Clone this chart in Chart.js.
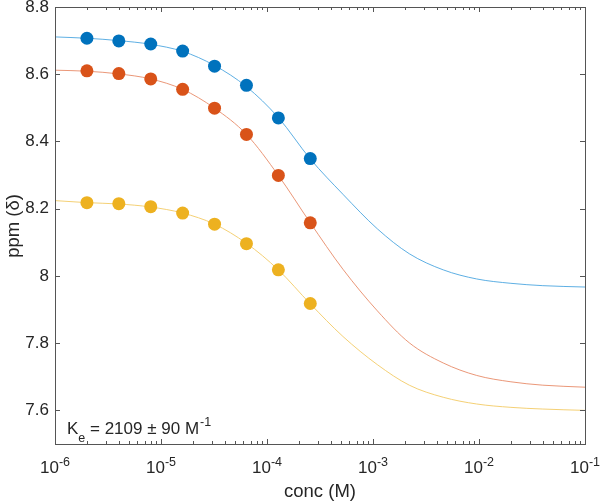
<!DOCTYPE html>
<html lang="en">
<head>
    <meta charset="UTF-8">
    <title>Binding fit</title>
    <style>
        body { margin: 0; background: #fff; }
        #wrap { width: 600px; height: 503px; }
    </style>
    <script src="https://cdn.jsdelivr.net/npm/chart.js"></script>
</head>
<body>
    <div id="wrap">
        <canvas id="fitChart" width="600" height="503"></canvas>
    </div>

    <script>
        // measured points
        var conc = [2e-6, 4e-6, 8e-6, 1.6e-5, 3.2e-5, 6.4e-5, 1.28e-4, 2.56e-4];
        var ppmBlue = [8.707, 8.699, 8.690, 8.669, 8.624, 8.567, 8.470, 8.349];
        var ppmRed = [8.610, 8.602, 8.586, 8.555, 8.499, 8.421, 8.299, 8.158];
        var ppmYellow = [8.218, 8.215, 8.206, 8.187, 8.154, 8.096, 8.018, 7.918];

        // fitted curves
        var fitConc = [1e-6, 2e-6, 4e-6, 8e-6, 1.6e-5, 3.2e-5, 6.4e-5, 1.28e-4, 2.56e-4, 5.2e-4, 1.1e-3, 2.2e-3, 4.6e-3, 9.5e-3, 2e-2, 4e-2, 1e-1];
        var fitBlue = [8.711, 8.707, 8.700, 8.689, 8.668, 8.626, 8.563, 8.471, 8.348, 8.243, 8.140, 8.066, 8.018, 7.991, 7.978, 7.971, 7.967];
        var fitRed = [8.612, 8.609, 8.601, 8.586, 8.555, 8.499, 8.421, 8.299, 8.158, 8.020, 7.896, 7.801, 7.741, 7.704, 7.685, 7.675, 7.669];
        var fitYellow = [8.224, 8.218, 8.214, 8.205, 8.187, 8.154, 8.097, 8.018, 7.917, 7.820, 7.736, 7.675, 7.639, 7.619, 7.609, 7.604, 7.600];

        // axis ticks
        var xTicks = [1e-6, 1e-5, 1e-4, 1e-3, 1e-2, 1e-1];
        var xTickExp = ['-6', '-5', '-4', '-3', '-2', '-1'];
        var yTicks = [7.6, 7.8, 8, 8.2, 8.4, 8.6, 8.8];
        var yTickLabels = ['7.6', '7.8', '8', '8.2', '8.4', '8.6', '8.8'];

        var blue = '#0072BD', red = '#D95319', yellow = '#EDB120';
        var font = '"Liberation Sans", Arial, sans-serif';
        var ink = '#262626';

        function pts(xs, ys) {
            return xs.map(function (x, i) { return { x: x, y: ys[i] }; });
        }

        // MATLAB-style box with inward ticks
        var matlabAxes = {
            id: 'matlabAxes',
            afterDraw: function (chart) {
                var ctx = chart.ctx;
                var a = chart.chartArea;
                var xs = chart.scales.x, ys = chart.scales.y;
                ctx.save();
                ctx.strokeStyle = '#555';
                ctx.lineWidth = 1;
                ctx.strokeRect(a.left + 0.5, a.top + 0.5, a.right - a.left, a.bottom - a.top);

                ctx.beginPath();
                // x major + minor ticks (bottom and top)
                for (var d = -6; d <= -1; d++) {
                    for (var m = 1; m <= 9; m++) {
                        if (d === -1 && m > 1) break;
                        var v = m * Math.pow(10, d);
                        var px = Math.round(xs.getPixelForValue(v)) + 0.5;
                        var len = m === 1 ? 5 : 3;
                        ctx.moveTo(px, a.bottom);
                        ctx.lineTo(px, a.bottom - len);
                        ctx.moveTo(px, a.top);
                        ctx.lineTo(px, a.top + len);
                    }
                }
                // y ticks (left and right)
                yTicks.forEach(function (v) {
                    var py = Math.round(ys.getPixelForValue(v)) + 0.5;
                    ctx.moveTo(a.left, py);
                    ctx.lineTo(a.left + 5, py);
                    ctx.moveTo(a.right, py);
                    ctx.lineTo(a.right - 5, py);
                });
                ctx.stroke();

                ctx.fillStyle = ink;
                // y tick labels
                ctx.font = '17px ' + font;
                ctx.textAlign = 'right';
                ctx.textBaseline = 'middle';
                yTicks.forEach(function (v, i) {
                    ctx.fillText(yTickLabels[i], a.left - 6, ys.getPixelForValue(v));
                });

                // x tick labels 10^n
                ctx.textBaseline = 'alphabetic';
                ctx.textAlign = 'left';
                xTicks.forEach(function (v, i) {
                    var px = xs.getPixelForValue(v);
                    ctx.font = '17px ' + font;
                    var wb = ctx.measureText('10').width;
                    ctx.font = '12.5px ' + font;
                    var we = ctx.measureText(xTickExp[i]).width;
                    var x0 = px - (wb + we) / 2;
                    ctx.font = '17px ' + font;
                    ctx.fillText('10', x0, a.bottom + 29);
                    ctx.font = '12.5px ' + font;
                    ctx.fillText(xTickExp[i], x0 + wb, a.bottom + 22);
                });

                // axis titles
                ctx.font = '18.5px ' + font;
                ctx.textAlign = 'center';
                ctx.textBaseline = 'middle';
                ctx.fillText('conc (M)', (a.left + a.right) / 2, 492);
                ctx.save();
                ctx.translate(14, 226);
                ctx.rotate(-Math.PI / 2);
                ctx.fillText('ppm (\u03B4)', 0, 0);
                ctx.restore();

                // annotation K_e = 2109 ± 90 M^-1
                ctx.textAlign = 'left';
                ctx.textBaseline = 'alphabetic';
                var x = 67, base = 434;
                ctx.font = '17px ' + font;
                ctx.fillText('K', x, base);
                x += ctx.measureText('K').width;
                ctx.font = '12.5px ' + font;
                ctx.fillText('e', x, base + 8);
                x += ctx.measureText('e').width;
                ctx.font = '17px ' + font;
                var main = ' = 2109 \u00B1 90 M';
                ctx.fillText(main, x, base);
                x += ctx.measureText(main).width;
                ctx.font = '12.5px ' + font;
                ctx.fillText('-1', x + 1, base - 8);
                ctx.restore();
            }
        };

        function curve(data, color) {
            return {
                type: 'line',
                data: data,
                borderColor: color,
                borderWidth: 1,
                pointRadius: 0,
                cubicInterpolationMode: 'monotone',
                fill: false,
                order: 2
            };
        }
        function dots(data, color) {
            return {
                type: 'scatter',
                data: data,
                backgroundColor: color,
                borderColor: color,
                borderWidth: 0,
                pointRadius: 6.5,
                pointHoverRadius: 6.5,
                order: 1
            };
        }

        var ctx = document.getElementById('fitChart').getContext('2d');
        var chart = new Chart(ctx, {
            type: 'scatter',
            data: {
                datasets: [
                    curve(pts(fitConc, fitBlue), 'rgba(77, 166, 224, 0.9)'),
                    curve(pts(fitConc, fitRed), 'rgba(232, 140, 105, 0.9)'),
                    curve(pts(fitConc, fitYellow), 'rgba(243, 205, 110, 0.95)'),
                    dots(pts(conc, ppmBlue), blue),
                    dots(pts(conc, ppmRed), red),
                    dots(pts(conc, ppmYellow), yellow)
                ]
            },
            options: {
                responsive: false,
                animation: false,
                layout: { padding: { left: 55, top: 7, right: 15, bottom: 59 } },
                plugins: {
                    legend: { display: false },
                    tooltip: { enabled: false }
                },
                scales: {
                    x: { type: 'logarithmic', min: 1e-6, max: 1e-1, display: false },
                    y: { type: 'linear', min: 7.5, max: 8.8, display: false }
                }
            },
            plugins: [matlabAxes]
        });
    </script>
</body>
</html>
